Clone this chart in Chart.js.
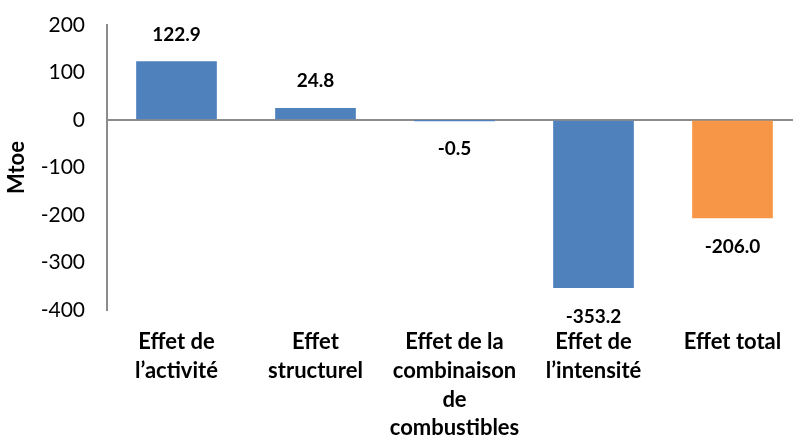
<!DOCTYPE html>
<html>
<head>
<meta charset="utf-8">
<script src="https://cdn.jsdelivr.net/npm/chart.js@4"></script>
<style>
html, body { margin: 0; padding: 0; background: #fff; overflow: hidden; }
canvas { display: block; }
</style>
</head>
<body>
<canvas id="chart" width="802" height="437"></canvas>
<script>
const categories = [
  ['Effet de', 'l\u2019activit\u00e9'],
  ['Effet', 'structurel'],
  ['Effet de la', 'combinaison', 'de', 'combustibles'],
  ['Effet de', 'l\u2019intensit\u00e9'],
  ['Effet total']
];
const values = [122.9, 24.8, -0.5, -353.2, -206.0];
const barColors = ['#4F81BD', '#4F81BD', '#4F81BD', '#4F81BD', '#F79646'];
const yTicks = [-400, -300, -200, -100, 0, 100, 200];

const fontFamily = 'Lato, "Open Sans", sans-serif';

const valueLabels = {
  id: 'valueLabels',
  afterDatasetsDraw(chart) {
    const ctx = chart.ctx;
    const meta = chart.getDatasetMeta(0);
    ctx.save();
    ctx.font = 'bold 19px ' + fontFamily;
    ctx.fillStyle = '#000';
    ctx.textAlign = 'center';
    ctx.textBaseline = 'middle';
    meta.data.forEach((bar, i) => {
      const v = values[i];
      const y = v >= 0 ? bar.y - 27 : bar.y + 29;
      ctx.fillText(v.toFixed(1), bar.x, y);
    });
    ctx.restore();
  }
};

new Chart(document.getElementById('chart').getContext('2d'), {
  type: 'bar',
  data: {
    labels: categories,
    datasets: [{
      data: values,
      backgroundColor: barColors,
      barThickness: 80
    }]
  },
  options: {
    responsive: false,
    animation: false,
    layout: { padding: { top: 25, left: 0, right: 0, bottom: 0 } },
    plugins: {
      legend: { display: false },
      tooltip: { enabled: false }
    },
    scales: {
      x: {
        grid: { display: false },
        border: { display: false },
        ticks: {
          color: '#000',
          padding: 10,
          maxRotation: 0,
          autoSkip: false,
          font: { family: fontFamily, size: 22, weight: 'bold', lineHeight: 1.3 }
        },
        afterFit(scale) { scale.height = 127; }
      },
      y: {
        min: -400,
        max: 200,
        z: 1,
        afterBuildTicks(scale) { scale.ticks = yTicks.map(v => ({ value: v })); },
        title: {
          display: true,
          text: 'Mtoe',
          color: '#000',
          padding: { top: 4, bottom: 0 },
          font: { family: fontFamily, size: 22, weight: 'bold' }
        },
        grid: {
          drawTicks: true,
          tickLength: 20,
          tickColor: 'rgba(0,0,0,0)',
          color: ctx => ctx.tick && ctx.tick.value === 0 ? '#8c8c8c' : 'rgba(0,0,0,0)',
          lineWidth: 2
        },
        border: { display: true, color: '#8c8c8c', width: 2 },
        ticks: {
          color: '#000',
          padding: 2,
          font: { family: fontFamily, size: 21 }
        },
        afterFit(scale) { scale.width = 107; }
      }
    }
  },
  plugins: [valueLabels]
});
</script>
</body>
</html>
